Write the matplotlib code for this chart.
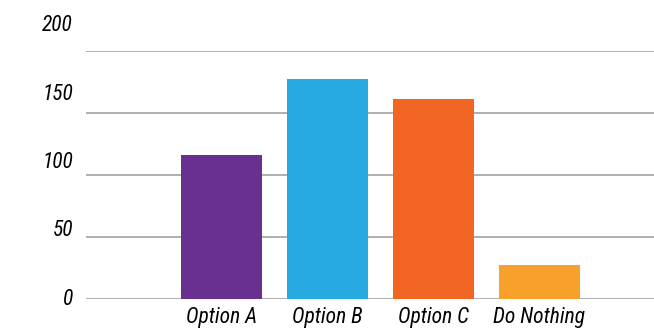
import matplotlib
matplotlib.use("Agg")
import matplotlib.pyplot as plt
import matplotlib.transforms as mtransforms
from matplotlib import font_manager
import numpy as np

categories = ["Option A", "Option B", "Option C", "Do Nothing"]
values = [116, 177, 161, 27]
colors = ["#68308F", "#27A9E1", "#F26522", "#F7A02B"]
y_ticks = [0, 50, 100, 150, 200]

# prefer a condensed face if one is installed
installed = {f.name for f in font_manager.fontManager.ttflist}
family = [f for f in ["Roboto Condensed", "Liberation Sans Narrow", "Open Sans Condensed",
                      "Roboto", "DejaVu Sans"] if f in installed]
condensed = family[0] in ("Roboto Condensed", "Liberation Sans Narrow", "Open Sans Condensed")
size = 15.5 if condensed else 14
plt.rcParams["font.family"] = family

fig = plt.figure(figsize=(6.54, 3.30), dpi=100, facecolor="w")
ax = fig.add_axes([0.1315, 0.0939, 0.8685, 0.7525])

ind = np.arange(len(categories))
ax.bar(ind, values, 0.764, color=colors, zorder=3)

ax.set_xlim(-1.277, 4.08)
ax.set_ylim(0, 200)

# horizontal gridlines
for t in y_ticks:
    ax.axhline(t, color="#A7A9AC", linewidth=1.3, zorder=1)

for side in ["top", "right", "left", "bottom"]:
    ax.spines[side].set_visible(False)

ax.set_xticks(ind)
ax.set_xticklabels(categories, fontsize=size, style="italic")
ax.tick_params(axis="x", length=0, pad=6)
ax.set_yticks([])

# y labels sit a bit above their gridlines in the original
trans = mtransforms.blended_transform_factory(ax.transAxes, ax.transData)
for t in y_ticks:
    ax.text(-0.023, t * 1.1, str(t), transform=trans, ha="right", va="center",
            fontsize=size, style="italic", clip_on=False)

fig.savefig("out.png", dpi=100)
